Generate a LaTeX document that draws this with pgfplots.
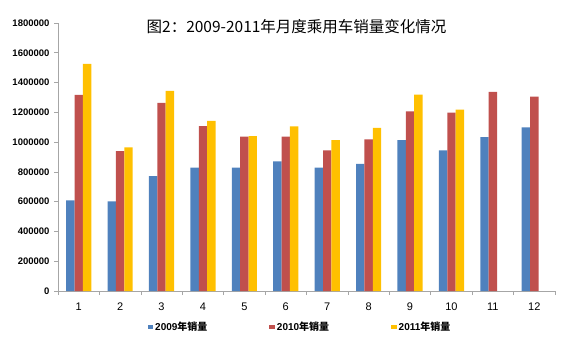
\documentclass[border=0pt]{standalone}
\usepackage{pgfplots}
\pgfplotsset{compat=1.18}
\usepackage{fontspec}
\setmainfont{Liberation Sans}
\newfontfamily\cjk{Noto Sans CJK SC}
\definecolor{cA}{HTML}{4F81BD}
\definecolor{cB}{HTML}{C0504D}
\definecolor{cC}{HTML}{FFC000}
\begin{document}
\begin{tikzpicture}[x=1pt,y=1pt]
\useasboundingbox (0,0) rectangle (580,356);
\begin{axis}[
  at={(58pt,65pt)}, anchor=south west,
  scale only axis, width=497pt, height=268pt,
  xmin=0.5, xmax=12.5, ymin=0, ymax=1800000,
  ytick={0,200000,...,1800000},
  xtick={1,...,12},
  minor xtick={0.5,1.5,...,12.5},
  major x tick style={draw=none},
  minor tick length=4pt,
  major tick length=4pt,
  tick style={gray!70, line width=0.6pt},
  tick align=outside,
  xtick pos=bottom, ytick pos=left,
  axis x line*=bottom, axis y line*=left,
  axis line style={gray!70, line width=0.6pt, -},
  scaled y ticks=false,
  yticklabel style={/pgf/number format/fixed, /pgf/number format/1000 sep={}, font=\fontsize{9.5}{10}\selectfont\bfseries, xshift=-1pt},
  xticklabel style={font=\fontsize{11}{12}\selectfont, yshift=-4pt},
  /pgf/number format/assume math mode=true,
  ybar=0pt, bar width=8.4pt,
  legend style={at={(0.487,-0.135)}, anchor=center, draw=none, legend columns=3,
    font=\fontsize{10}{11}\selectfont\bfseries,
    /tikz/every even column/.append style={column sep=60pt}},
  legend image code/.code={\fill[#1] (0pt,-2pt) rectangle (5.5pt,2pt);},
  title={\cjk 图2：2009-2011年月度乘用车销量变化情况},
  title style={at={(0.48,0.965)}, anchor=center, font=\fontsize{15.5}{17}\selectfont},
]
\addplot[fill=cA, draw=none] coordinates {(1,608000)(2,602000)(3,772000)(4,828000)(5,828000)(6,870000)(7,828000)(8,853000)(9,1014000)(10,944000)(11,1034000)(12,1099000)};
\addplot[fill=cB, draw=none] coordinates {(1,1317000)(2,940000)(3,1263000)(4,1108000)(5,1037000)(6,1037000)(7,944000)(8,1018000)(9,1207000)(10,1198000)(11,1337000)(12,1306000)};
\addplot[fill=cC, draw=none] coordinates {(1,1526000)(2,965000)(3,1344000)(4,1142000)(5,1041000)(6,1106000)(7,1014000)(8,1095000)(9,1319000)(10,1218000)};
\legend{2009{\cjk 年销量},2010{\cjk 年销量},2011{\cjk 年销量}}
\end{axis}
\end{tikzpicture}
\end{document}
